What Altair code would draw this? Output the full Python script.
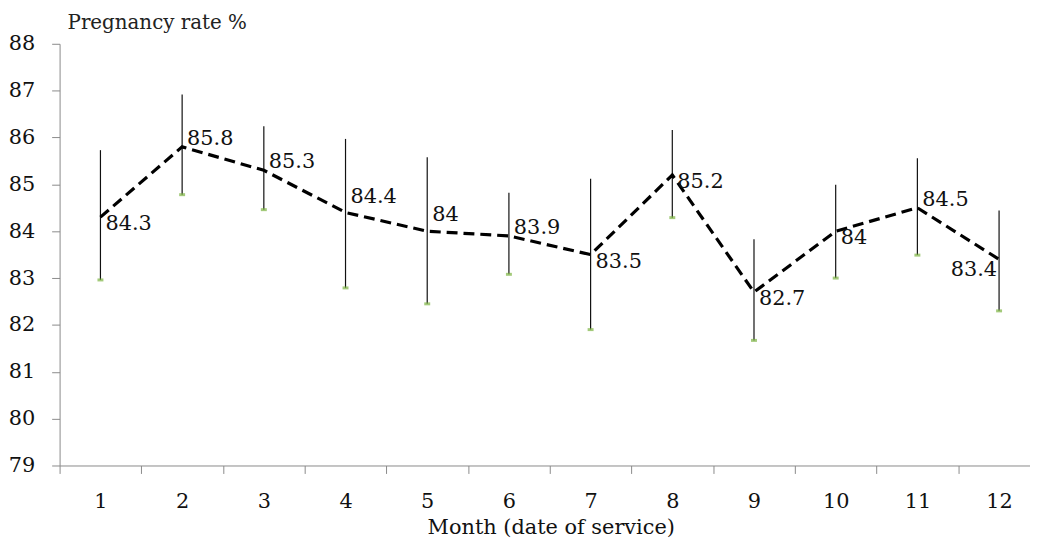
import altair as alt
import pandas as pd

months = [1, 2, 3, 4, 5, 6, 7, 8, 9, 10, 11, 12]
means = [84.3, 85.8, 85.3, 84.4, 84.0, 83.9, 83.5, 85.2, 82.7, 84.0, 84.5, 83.4]
labels = ["84.3", "85.8", "85.3", "84.4", "84", "83.9", "83.5", "85.2", "82.7", "84", "84.5", "83.4"]
upper = [85.73, 86.92, 86.24, 85.97, 85.58, 84.82, 85.12, 86.16, 83.83, 84.99, 85.56, 84.44]
lower = [82.96, 84.78, 84.46, 82.79, 82.45, 83.08, 81.90, 84.29, 81.67, 83.00, 83.49, 82.30]
# label placement group per month (style only)
placement = ["r", "ru", "ru", "ruu", "ruu", "ru", "r", "r", "r", "rd", "ru", "l"]

df = pd.DataFrame({"month": months, "mean": means, "label": labels,
                   "upper": upper, "lower": lower, "place": placement})

FONT = "DejaVu Serif"
x_enc = alt.X("month:O",
              scale=alt.Scale(type="band", paddingInner=0, paddingOuter=0, range=[0, 988]),
              axis=alt.Axis(title="Month (date of service)", labelAngle=0, tickBand="extent",
                            labelFont=FONT, labelFontSize=21, labelColor="#111",
                            titleFont=FONT, titleFontSize=21, titleFontWeight="normal",
                            titleColor="#111", labelPadding=17, titlePadding=6,
                            domainColor="#8a8a8a", tickColor="#8a8a8a", tickSize=8,
                            titleX=495, titleAnchor="middle"))
y_scale = alt.Scale(domain=[79, 88], nice=False, zero=False)
y_enc = alt.Y("mean:Q", scale=y_scale,
              axis=alt.Axis(title=None, values=list(range(79, 89)), grid=False,
                            labelFont=FONT, labelFontSize=21, labelColor="#111",
                            labelPadding=17, domainColor="#8a8a8a", tickColor="#8a8a8a",
                            tickSize=8, format="d"))

base = alt.Chart(df)

err = base.mark_rule(color="#111", strokeWidth=1.2).encode(
    x=x_enc, y=alt.Y("upper:Q", scale=y_scale), y2="lower:Q")
caps = base.mark_tick(orient="horizontal", size=6, thickness=3, color="#7cb342").encode(
    x=x_enc, y=alt.Y("lower:Q", scale=y_scale))
line = base.mark_line(color="black", strokeWidth=3.2, strokeDash=[11, 6]).encode(
    x=x_enc, y=y_enc)

offsets = {"r": (5, 7, "left"), "ru": (5, -8, "left"), "ruu": (5, -16, "left"),
           "rd": (5, 7, "left"), "l": (-2, 11, "right")}
texts = []
for key, (dx, dy, align) in offsets.items():
    texts.append(
        base.transform_filter(alt.datum.place == key)
        .mark_text(font=FONT, fontSize=21, color="#111", dx=dx, dy=dy, align=align, baseline="middle")
        .encode(x=x_enc, y=alt.Y("mean:Q", scale=y_scale), text="label:N"))

chart = alt.layer(err, caps, line, *texts).properties(
    width=978, height=425,
    title=alt.TitleParams("Pregnancy rate %", anchor="start", frame="group", font=FONT,
                          fontSize=20, fontWeight="normal", color="#222", dx=8, offset=0, dy=0),
    autosize=alt.AutoSizeParams(type="none"),
    padding={"left": 52, "top": 34, "right": 0, "bottom": 72},
).configure_view(stroke=None)

chart.save("out.html", embed_options={"renderer": "svg", "actions": False})
